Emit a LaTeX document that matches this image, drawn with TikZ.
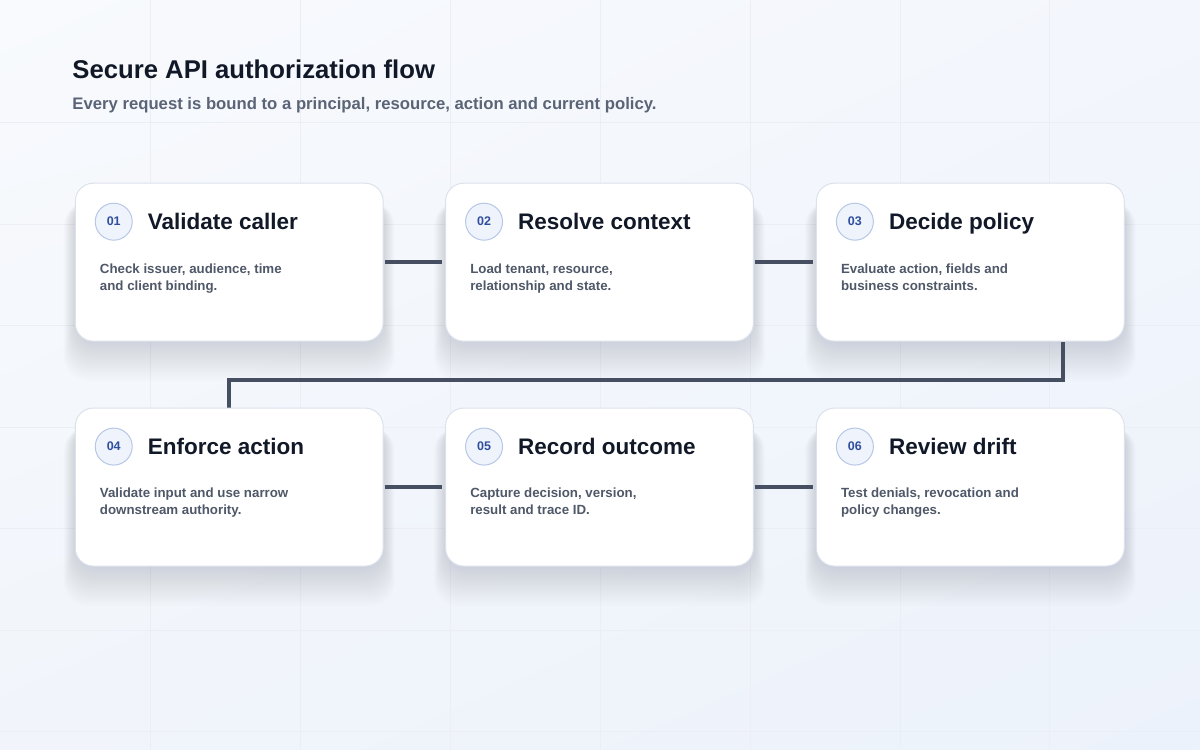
\documentclass[tikz,border=0pt]{standalone}
\usepackage{fontspec}
\setmainfont{Liberation Sans}
\usetikzlibrary{calc,shadings}
\definecolor{bgA}{HTML}{F8FAFD}
\definecolor{bgB}{HTML}{F1F5FB}
\definecolor{bgC}{HTML}{F3F6FC}
\definecolor{bgD}{HTML}{ECF2FB}
\definecolor{gridc}{HTML}{EBEEF4}
\definecolor{cardborder}{HTML}{DCE2EC}
\definecolor{ink}{HTML}{111827}
\definecolor{muted}{HTML}{5A6476}
\definecolor{bodyc}{HTML}{4F5868}
\definecolor{connc}{HTML}{454F61}
\definecolor{numfill}{HTML}{EEF3FC}
\definecolor{numline}{HTML}{B7C7E6}
\definecolor{numtext}{HTML}{2F4E9E}
\definecolor{shadowc}{HTML}{2A3A63}
\pgfdeclarelayer{bg}
\pgfdeclarelayer{mid}
\pgfsetlayers{bg,mid,main}
\begin{document}
\begin{tikzpicture}[x=1pt,y=-1pt,
  card/.style={draw=cardborder, line width=1pt, fill=white, rounded corners=18pt,
    minimum width=308pt, minimum height=158pt, inner sep=0pt},
  numc/.style={circle, draw=numline, line width=1pt, fill=numfill, minimum size=37pt,
    inner sep=0pt, font=\fontsize{12.5}{12}\selectfont\bfseries, text=numtext},
  ttl/.style={anchor=base west, font=\fontsize{22.5}{26}\selectfont\bfseries, text=ink, inner sep=0pt},
  body/.style={anchor=north west, align=left, font=\fontsize{13.3}{17}\selectfont\bfseries,
    text=bodyc, inner sep=0pt},
  connector/.style={draw=connc, line width=4pt},
  gridline/.style={draw=gridc, line width=0.6pt},
]
% cards
\node[card] (c1) at (229,262) {};
\node[card] (c2) at (599.5,262) {};
\node[card] (c3) at (970.5,262) {};
\node[card] (c4) at (229,487) {};
\node[card] (c5) at (599.5,487) {};
\node[card] (c6) at (970.5,487) {};

% background, grid and shadows
\begin{pgfonlayer}{bg}
  \shade[upper left=bgA, upper right=bgC, lower left=bgB, lower right=bgD]
    (0,0) rectangle (1200,750);
  \foreach \gx in {150,300,...,1050} \draw[gridline] (\gx,0) -- (\gx,750);
  \foreach \gy in {122,224,325,427,528,630,731} \draw[gridline] (0,\gy) -- (1200,\gy);
  \foreach \c in {c1,c2,c3,c4,c5,c6}{
    \foreach \i in {0,...,17}{
      \fill[shadowc, opacity=0.0075, rounded corners=24pt]
        ($(\c.north west)+(-0.65*\i, 16+0.2*\i)$) rectangle ($(\c.south east)+(0.65*\i, 2+2.2*\i)$);
    }
  }
\end{pgfonlayer}

% header
\node[anchor=base west, inner sep=0pt, font=\fontsize{25.7}{30}\selectfont\bfseries, text=ink] (title) at (72,78) {Secure API authorization flow};
\node[anchor=base west, inner sep=0pt, font=\fontsize{16.7}{20}\selectfont\bfseries, text=muted] (subtitle) at (72,109) {Every request is bound to a principal, resource, action and current policy.};

% card contents
\foreach \c/\n/\t/\b in {
  c1/01/Validate caller/{Check issuer, audience, time\\and client binding.},
  c2/02/Resolve context/{Load tenant, resource,\\relationship and state.},
  c3/03/Decide policy/{Evaluate action, fields and\\business constraints.},
  c4/04/Enforce action/{Validate input and use narrow\\downstream authority.},
  c5/05/Record outcome/{Capture decision, version,\\result and trace ID.},
  c6/06/Review drift/{Test denials, revocation and\\policy changes.}}{
  \node[numc] (\c-num) at ($(\c.north west)+(39,39)$) {\n};
  \node[ttl] (\c-title) at ($(\c.north west)+(73,47)$) {\t};
  \node[body] (\c-body) at ($(\c.north west)+(25,80.5)$) {\b};
}

% connectors
\begin{pgfonlayer}{mid}
  \draw[connector, shorten <=1pt, shorten >=3pt] (c1.east) -- (c2.west);
  \draw[connector, shorten <=1pt, shorten >=3pt] (c2.east) -- (c3.west);
  \draw[connector, shorten <=1pt, shorten >=3pt] (c4.east) -- (c5.west);
  \draw[connector, shorten <=1pt, shorten >=3pt] (c5.east) -- (c6.west);
  \draw[connector] ([xshift=-62pt]c3.south east) -- ++(0,38) -| (c4.north);
\end{pgfonlayer}
\end{tikzpicture}
\end{document}
